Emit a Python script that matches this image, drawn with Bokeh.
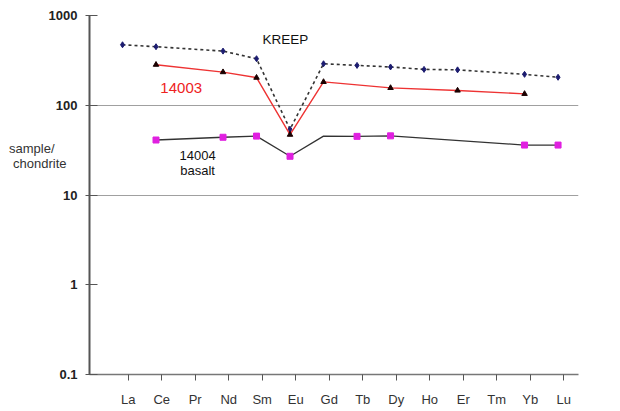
from bokeh.plotting import figure
from bokeh.models import Range1d, LinearAxis, LogAxis, FixedTicker, Label
from bokeh.embed import file_html
from bokeh.resources import INLINE

# ---- data (sample/chondrite) ----
elements = ["La", "Ce", "Pr", "Nd", "Sm", "Eu", "Gd", "Tb", "Dy", "Ho", "Er", "Tm", "Yb", "Lu"]
kreep = [472, 449, None, 401, 330, 54, 290, 278, 267, 251, 248, None, 221, 205]
s14003 = [None, 283, None, 234, 203, 47, 182, None, 156, None, 146, None, 134, None]
s14004 = [None, 41, None, 44, 45.3, 27, 45.3, 45, 45.6, None, None, None, 36, 36]
s14004_unmarked = ["Gd"]
y_ticks = [0.1, 1, 10, 100, 1000]
y_tick_labels = ["0.1", "1", "10", "100", "1000"]
grid_values = [10, 100, 1000]


def pts(vals, skip=()):
    xs, ys = [], []
    for i, (e, v) in enumerate(zip(elements, vals)):
        if v is not None and e not in skip:
            xs.append(i)
            ys.append(v)
    return xs, ys


X0, X1 = -0.985, 13.61
p = figure(width=612, height=409,
           x_range=Range1d(X0, X1), y_range=Range1d(0.1, 1000),
           y_axis_type="log", output_backend="svg", toolbar_location=None,
           x_axis_location=None,
           min_border_left=89, min_border_right=34, min_border_top=15, min_border_bottom=34)
p.outline_line_color = None
p.background_fill_color = "white"
p.border_fill_color = "white"
font = "Liberation Sans"

# y axis
ya = p.yaxis[0]
ya.ticker = FixedTicker(ticks=y_ticks)
ya.major_label_overrides = {t: l for t, l in zip(y_ticks, y_tick_labels)}
ya.major_label_text_font = font
ya.major_label_text_font_style = "bold"
ya.major_label_text_font_size = "13px"
ya.major_label_text_color = "#222222"
ya.major_tick_in = 8
ya.major_tick_out = 4
ya.major_label_standoff = 8
ya.minor_tick_line_color = None
ya.axis_line_color = "#555555"
ya.axis_line_width = 2
ya.major_tick_line_color = "#555555"

# y-axis title lines, drawn as tick labels of two bare extra axes
for text, yv, standoff in [("chondrite", 22.7, -21), ("sample/", 33.3, -44)]:
    ax = LogAxis(ticker=FixedTicker(ticks=[yv]), major_label_overrides={yv: text})
    ax.axis_line_color = None
    ax.major_tick_line_color = None
    ax.minor_tick_line_color = None
    ax.major_tick_out = 0
    ax.major_tick_in = 0
    ax.major_label_standoff = standoff
    ax.major_label_text_font = font
    ax.major_label_text_font_size = "13px"
    ax.major_label_text_color = "#333333"
    p.add_layout(ax, "left")

p.ygrid.ticker = FixedTicker(ticks=grid_values)
p.ygrid.grid_line_color = "#a0a0a0"
p.ygrid.grid_line_width = 1
p.xgrid.grid_line_color = None

# x axis (slightly offset tick range, like the original)
p.extra_x_ranges = {"lab": Range1d(X0 - 0.17, X1 - 0.17)}
xa = LinearAxis(x_range_name="lab")
xa.ticker = FixedTicker(ticks=list(range(len(elements))))
xa.major_label_overrides = {i: e for i, e in enumerate(elements)}
xa.major_label_text_font = font
xa.major_label_text_font_size = "13px"
xa.major_label_text_color = "#333333"
xa.major_tick_in = 0
xa.major_tick_out = 6
xa.major_label_standoff = 11
xa.minor_tick_line_color = None
xa.axis_line_color = "#777777"
xa.axis_line_width = 1.5
xa.major_tick_line_color = "#555555"
p.add_layout(xa, "below")

# KREEP
kx, ky = pts(kreep)
p.line(kx, ky, line_color="#333333", line_width=1.6, line_dash="3 3")
p.scatter(kx, ky, marker="diamond", size=6, fill_color="#1c1c70", line_color="#1c1c70")

# 14003
rx, ry = pts(s14003)
p.line(rx, ry, line_color="#ee3333", line_width=1.4)
p.scatter(rx, ry, marker="triangle", size=5.5, fill_color="#1a0000", line_color="#1a0000")

# 14004 basalt
bx, by = pts(s14004)
p.line(bx, by, line_color="#333333", line_width=1.3)
mx, my = pts(s14004, skip=s14004_unmarked)
p.scatter(mx, my, marker="square", size=6, fill_color="#e020e0", line_color="#e020e0")

# annotations
p.add_layout(Label(x=4.18, y=541, text="KREEP", text_font=font, text_font_size="13.5px",
                   text_color="#111111", text_baseline="middle"))
p.add_layout(Label(x=1.13, y=155, text="14003", text_font=font, text_font_size="15px",
                   text_color="#ee2222", text_baseline="middle"))
p.add_layout(Label(x=2.24, y=27.8, text="14004", text_font=font, text_font_size="13px",
                   text_color="#111111", text_baseline="middle", text_align="center"))
p.add_layout(Label(x=2.24, y=18.9, text="basalt", text_font=font, text_font_size="13px",
                   text_color="#111111", text_baseline="middle", text_align="center"))

open("out.html", "w").write(file_html(p, INLINE))
